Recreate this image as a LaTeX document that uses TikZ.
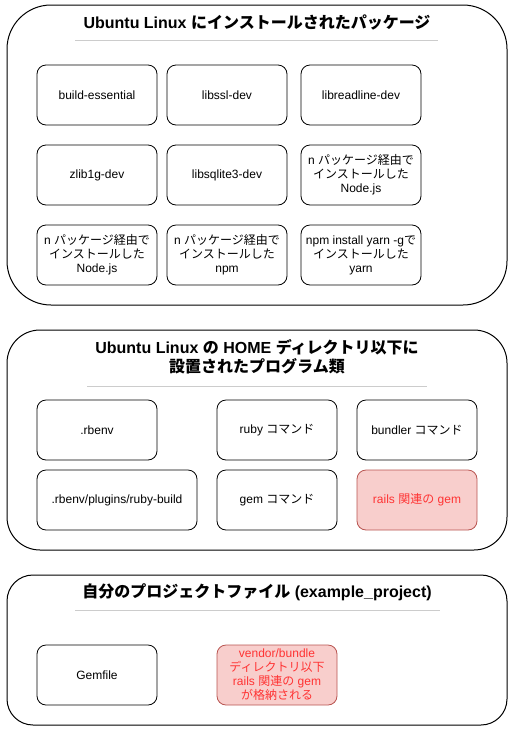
\documentclass[tikz,border=0pt]{standalone}
\usepackage{fontspec}
\setmainfont{Liberation Sans}
\newfontfamily\jpfont{Noto Sans CJK JP}
\newcommand{\jp}[1]{{\jpfont #1}}
\definecolor{railsfill}{HTML}{F8CECC}
\definecolor{railsdraw}{HTML}{B85450}
\definecolor{railstext}{HTML}{FF3333}
\definecolor{sepgray}{HTML}{CCCCCC}

\begin{document}
\begin{tikzpicture}[x=1pt, y=-1pt,
  group/.style={draw, line width=1pt, minimum width=500pt, inner sep=0pt},
  pkg/.style={draw, line width=0.8pt, rounded corners=9pt, minimum width=120pt,
              minimum height=60pt, align=center, inner sep=2pt,
              font=\fontsize{12}{14}\selectfont},
  gemred/.style={pkg, fill=railsfill, draw=railsdraw, text=railstext},
  title/.style={font=\bfseries\fontsize{16}{19}\selectfont, align=center},
  sep/.style={draw=sepgray, line width=0.8pt},
]
\useasboundingbox (0,0) rectangle (517,732);

% ---- Group 1: packages on Ubuntu ----
\node[group, minimum height=300pt, rounded corners=44pt] (ubuntu) at (257,155) {};
\node[title] (ubuntutitle) at (257,22)
  {Ubuntu Linux \jp{にインストールされたパッケージ}};
\draw[sep] (75,40) -- (438,40);

\node[pkg] (build) at (97,95) {build-essential};
\node[pkg] (ssl) at (227,95) {libssl-dev};
\node[pkg] (readline) at (361,95) {libreadline-dev};

\node[pkg] (zlib) at (97,175) {zlib1g-dev};
\node[pkg] (sqlite) at (227,175) {libsqlite3-dev};
\node[pkg] (nodea) at (361,175)
  {n \jp{パッケージ経由で}\\\jp{インストールした}\\Node.js};

\node[pkg] (nodeb) at (97,255)
  {n \jp{パッケージ経由で}\\\jp{インストールした}\\Node.js};
\node[pkg] (npm) at (227,255)
  {n \jp{パッケージ経由で}\\\jp{インストールした}\\npm};
\node[pkg] (yarn) at (361,255)
  {npm install yarn -g\jp{で}\\\jp{インストールした}\\yarn};

% ---- Group 2: programs under HOME ----
\node[group, minimum height=220pt, rounded corners=33pt] (home) at (257,440) {};
\node[title] (hometitle) at (257,357)
  {Ubuntu Linux \jp{の} HOME \jp{ディレクトリ以下に}\\\jp{設置されたプログラム類}};
\draw[sep] (87,386) -- (427,386);

\node[pkg] (rbenv) at (97,430) {.rbenv};
\node[pkg] (ruby) at (277,430) {ruby \jp{コマンド}};
\node[pkg] (bundler) at (417,430) {bundler \jp{コマンド}};

\node[pkg, minimum width=160pt] (rubybuild) at (117,500)
  {.rbenv/plugins/ruby-build};
\node[pkg] (gemcmd) at (277,500) {gem \jp{コマンド}};
\node[gemred] (railsgem) at (417,500) {rails \jp{関連の} gem};

% ---- Group 3: own project ----
\node[group, minimum height=150pt, rounded corners=26pt] (project) at (257,650) {};
\node[title] (projecttitle) at (257,592)
  {\jp{自分のプロジェクトファイル} (example\_project)};
\draw[sep] (75,610) -- (440,610);

\node[pkg] (gemfile) at (97,675) {Gemfile};
\node[gemred] (vendor) at (277,675)
  {vendor/bundle\\\jp{ディレクトリ以下}\\rails \jp{関連の} gem\\\jp{が格納される}};

\end{tikzpicture}
\end{document}
